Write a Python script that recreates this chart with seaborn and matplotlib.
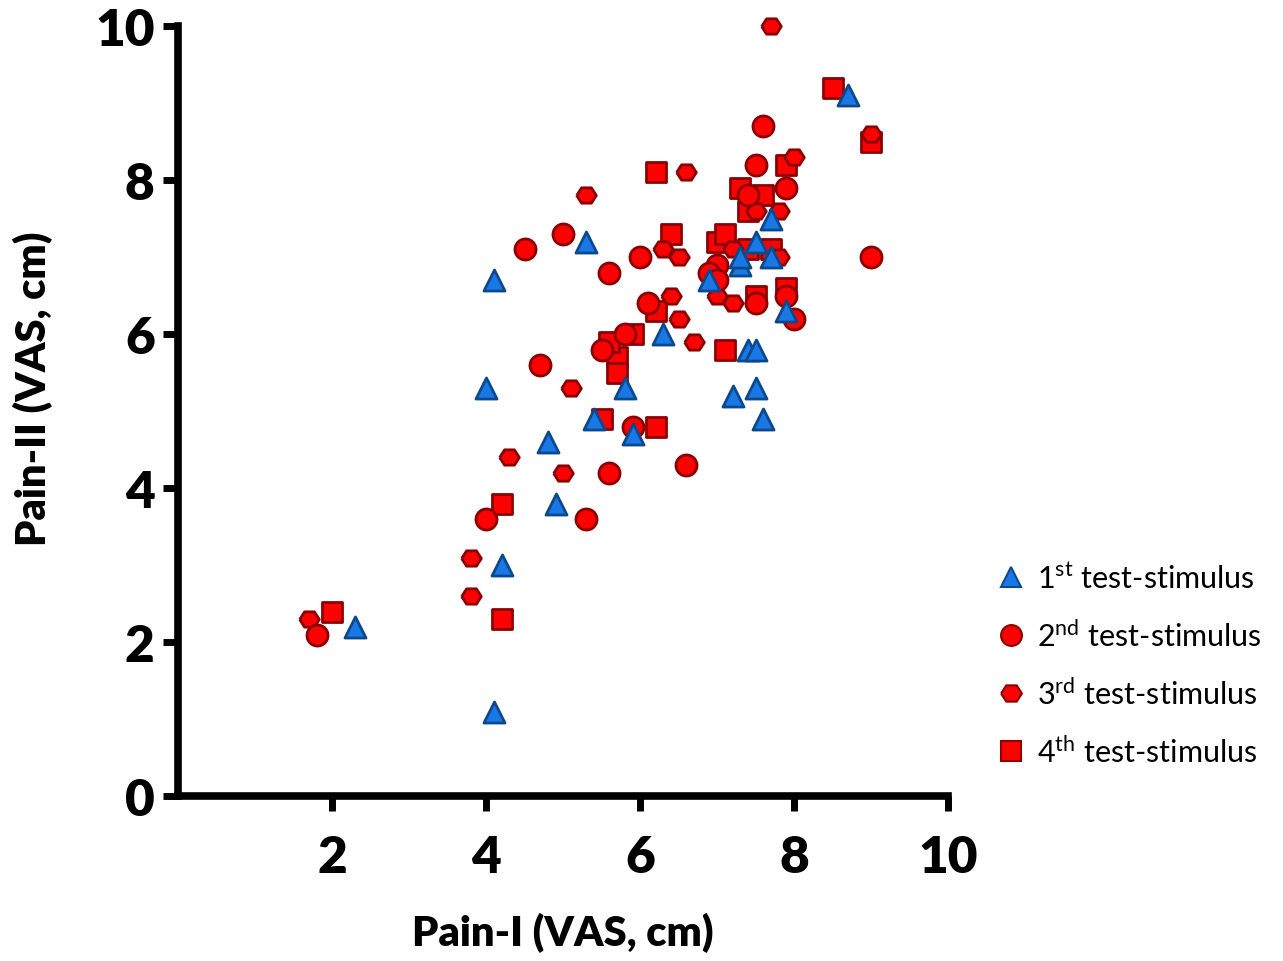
import pandas as pd
import seaborn as sns
import matplotlib.pyplot as plt
from matplotlib.lines import Line2D

# valores (Pain-I, Pain-II) para cada estímulo
x1 = [2.3, 4.1, 4.2, 4.0, 4.1, 4.9, 4.8, 5.4, 5.3, 5.8, 5.9, 6.3, 6.9, 7.2, 7.3, 7.3, 7.5, 7.4, 7.5, 7.5, 7.6, 7.7, 7.7, 7.9, 8.7]
y1 = [2.2, 1.1, 3.0, 5.3, 6.7, 3.8, 4.6, 4.9, 7.2, 5.3, 4.7, 6.0, 6.7, 5.2, 6.9, 7.0, 7.2, 5.8, 5.8, 5.3, 4.9, 7.0, 7.5, 6.3, 9.1]

x2 = [1.8, 4.0, 4.7, 4.5, 5.0, 5.3, 5.5, 5.8, 5.9, 5.6, 6.6, 5.6, 6.0, 6.1, 7.6, 7.5, 7.9, 7.4, 9.0, 7.0, 6.9, 7.0, 7.5, 7.9, 8.0]
y2 = [2.1, 3.6, 5.6, 7.1, 7.3, 3.6, 5.8, 6.0, 4.8, 4.2, 4.3, 6.8, 7.0, 6.4, 8.7, 8.2, 7.9, 7.8, 7.0, 6.9, 6.8, 6.7, 6.4, 6.5, 6.2]

x3 = [1.7, 3.8, 3.8, 4.3, 5.0, 5.1, 5.3, 6.6, 7.7, 8.0, 9.0, 6.3, 6.5, 6.4, 6.5, 6.7, 7.5, 7.8, 7.2, 7.8, 7.0, 7.2]
y3 = [2.3, 2.6, 3.1, 4.4, 4.2, 5.3, 7.8, 8.1, 10.0, 8.3, 8.6, 7.1, 7.0, 6.5, 6.2, 5.9, 7.6, 7.6, 7.1, 7.0, 6.5, 6.4]

x4 = [2.0, 4.2, 4.2, 5.5, 6.2, 5.7, 5.7, 5.6, 5.9, 6.2, 6.2, 6.4, 7.0, 7.1, 7.1, 7.3, 7.4, 7.6, 7.5, 7.9, 7.9, 8.5, 9.0, 7.4, 7.7]
y4 = [2.4, 2.3, 3.8, 4.9, 4.8, 5.7, 5.5, 5.9, 6.0, 6.3, 8.1, 7.3, 7.2, 7.3, 5.8, 7.9, 7.6, 7.8, 6.5, 6.6, 8.2, 9.2, 8.5, 7.1, 7.1]

labels = ['1$^{\\mathrm{st}}$ test-stimulus', '2$^{\\mathrm{nd}}$ test-stimulus',
          '3$^{\\mathrm{rd}}$ test-stimulus', '4$^{\\mathrm{th}}$ test-stimulus']

sns.set_style('ticks')
plt.rcParams['font.family'] = ['Lato', 'DejaVu Sans']
plt.rcParams['mathtext.fontset'] = 'custom'
plt.rcParams['mathtext.rm'] = 'Lato'
for k in ['text.color', 'axes.labelcolor', 'xtick.color', 'ytick.color', 'axes.edgecolor']:
    plt.rcParams[k] = 'black'

hexa = [(-1, 0), (-0.5, 0.78), (0.5, 0.78), (1, 0), (0.5, -0.78), (-0.5, -0.78), (-1, 0)]

# (x, y, marcador, tamanho, cor, borda, zorder)
series = [
    (x4, y4, 's', 190, '#ff0000', '#8b0000', 2),
    (x3, y3, hexa, 200, '#ff0000', '#8b0000', 3),
    (x2, y2, 'o', 230, '#ff0000', '#8b0000', 4),
    (x1, y1, '^', 230, '#1a78e6', '#0a4a8c', 5),
]

fig = plt.figure(figsize=(12.83, 9.62), dpi=100)
ax = fig.add_axes([0.139, 0.171, 0.6, 0.801])

for xs, ys, m, s, c, ec, z in series:
    df = pd.DataFrame({'x': xs, 'y': ys})
    sns.scatterplot(data=df, x='x', y='y', marker=m, s=s, color=c, edgecolor=ec,
                    linewidth=2, ax=ax, zorder=z, clip_on=False)

ax.set_xlim(0, 10)
ax.set_ylim(0, 10)
ax.set_xticks([2, 4, 6, 8, 10])
ax.set_yticks([0, 2, 4, 6, 8, 10])
ax.tick_params(width=5, length=11, labelsize=37)
ax.tick_params(axis='x', pad=16)
ax.tick_params(axis='y', pad=6)
for t in ax.get_xticklabels() + ax.get_yticklabels():
    t.set_fontweight('heavy')
for sp in ['left', 'bottom']:
    ax.spines[sp].set_linewidth(5.5)
sns.despine(ax=ax)

ax.set_xlabel('Pain-I (VAS, cm)', fontsize=30, fontweight='heavy')
ax.set_ylabel('Pain-II (VAS, cm)', fontsize=30, fontweight='heavy')
ax.xaxis.set_label_coords(0.5, -0.15)
ax.yaxis.set_label_coords(-0.163, 0.53)

handles = [
    Line2D([], [], ls='', marker='^', ms=14, mfc='#1a78e6', mec='#0a4a8c', mew=1.5),
    Line2D([], [], ls='', marker='o', ms=15, mfc='#ff0000', mec='#8b0000', mew=1.5),
    Line2D([], [], ls='', marker=hexa, ms=15, mfc='#ff0000', mec='#8b0000', mew=1.5),
    Line2D([], [], ls='', marker='s', ms=14, mfc='#ff0000', mec='#8b0000', mew=1.5),
]
fig.legend(handles, labels, loc='center left', bbox_to_anchor=(0.755, 0.308),
           frameon=False, fontsize=22, handletextpad=0.35, labelspacing=0.85,
           handlelength=1.0)

fig.savefig('out.png', dpi=100)
